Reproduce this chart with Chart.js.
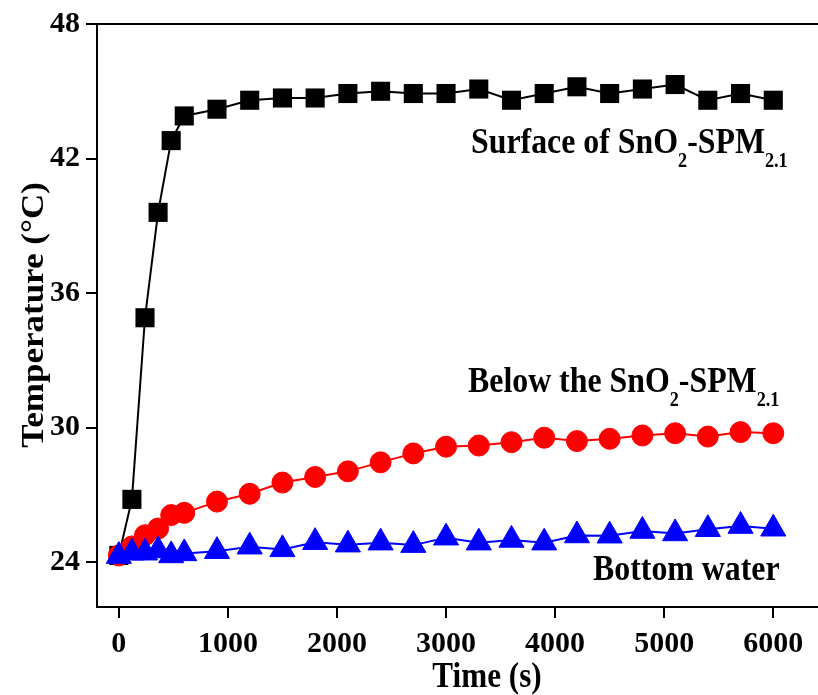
<!DOCTYPE html>
<html>
<head>
<meta charset="utf-8">
<script src="https://cdn.jsdelivr.net/npm/chart.js@4.4.0/dist/chart.umd.min.js"></script>
<style>
  html, body { margin: 0; padding: 0; background: #fff; overflow: hidden; }
</style>
</head>
<body>
<canvas id="myChart" width="818" height="695"></canvas>
<script>

// Time axis (s)

var times = [0, 120, 240, 360, 480, 600, 900, 1200, 1500, 1800, 2100, 2400, 2700,
             3000, 3300, 3600, 3900, 4200, 4500, 4800, 5100, 5400, 5700, 6000];

// The three temperature curves (°C)

var surfaceTemp = [24.3, 26.8, 34.9, 39.6, 42.8, 43.9, 44.2, 44.6, 44.7, 44.7, 44.9, 45.0,
                   44.9, 44.9, 45.1, 44.6, 44.9, 45.2, 44.9, 45.1, 45.3, 44.6, 44.9, 44.6];

var belowTemp = [24.3, 24.7, 25.2, 25.5, 26.1, 26.2, 26.7, 27.05, 27.55, 27.8, 28.05, 28.45,
                 28.85, 29.15, 29.2, 29.35, 29.55, 29.4, 29.5, 29.65, 29.75, 29.6, 29.8, 29.75];

var bottomTemp = [24.27, 24.42, 24.42, 24.52, 24.3, 24.39, 24.49, 24.69, 24.57, 24.89, 24.78, 24.87,
                  24.76, 25.09, 24.87, 24.99, 24.87, 25.19, 25.18, 25.39, 25.28, 25.47, 25.61, 25.49];

// Tick labels

var xTicks = [0, 1000, 2000, 3000, 4000, 5000, 6000];
var yTicks = [24, 30, 36, 42, 48];

var FONT = '"Liberation Serif", "Times New Roman", serif';

function toPoints(arr) {
  return times.map(function (t, i) { return { x: t, y: arr[i] }; });
}

// text squeezed a bit sideways, like the original figure
function drawParts(ctx, parts, x, y) {
  ctx.save();
  ctx.translate(x, y);
  ctx.scale(0.91, 1);
  ctx.fillStyle = '#000';
  ctx.textBaseline = 'alphabetic';
  ctx.textAlign = 'left';
  var cx = 0;
  parts.forEach(function (p) {
    ctx.font = p.sub ? 'bold 20px ' + FONT : 'bold 35px ' + FONT;
    ctx.fillText(p.text, cx, p.sub ? 14 : 0);
    cx += ctx.measureText(p.text).width;
  });
  ctx.restore();
}

var labelsPlugin = {
  id: 'labels',
  afterDraw: function (chart) {
    var ctx = chart.ctx;
    var a = chart.chartArea;

    // top frame line
    ctx.save();
    ctx.strokeStyle = '#000';
    ctx.lineWidth = 2;
    ctx.beginPath();
    ctx.moveTo(a.left - 1, a.top);
    ctx.lineTo(chart.width, a.top);
    ctx.stroke();
    ctx.restore();

    drawParts(ctx, [{ text: 'Surface of SnO' }, { text: '2', sub: true },
                    { text: '-SPM' }, { text: '2.1', sub: true }], 471, 153);
    drawParts(ctx, [{ text: 'Below the SnO' }, { text: '2', sub: true },
                    { text: '-SPM' }, { text: '2.1', sub: true }], 468, 392);
    drawParts(ctx, [{ text: 'Bottom water' }], 593, 580);

    // axis titles
    ctx.save();
    ctx.fillStyle = '#000';
    ctx.font = 'bold 35px ' + FONT;
    ctx.textAlign = 'center';
    ctx.textBaseline = 'alphabetic';
    ctx.translate(487, 687);
    ctx.scale(0.89, 1);
    ctx.fillText('Time (s)', 0, 0);
    ctx.restore();

    ctx.save();
    ctx.fillStyle = '#000';
    ctx.font = 'bold 35px ' + FONT;
    ctx.textAlign = 'center';
    ctx.textBaseline = 'alphabetic';
    ctx.translate(43, 315);
    ctx.scale(0.89, 1);
    ctx.rotate(-Math.PI / 2);
    ctx.fillText('Temperature (°C)', 0, 0);
    ctx.restore();
  }
};

var ctx = document.getElementById('myChart');
var myChart = new Chart(ctx, {
  type: 'line',
  data: {
    datasets: [
      {
        label: 'Surface of SnO2-SPM2.1',
        data: toPoints(surfaceTemp),
        borderColor: '#000000',
        backgroundColor: '#000000',
        borderWidth: 2,
        pointStyle: 'rect',
        pointRadius: 13.5,
        pointBorderWidth: 0,
        fill: false,
        order: 2
      },
      {
        label: 'Below the SnO2-SPM2.1',
        data: toPoints(belowTemp),
        borderColor: '#ff0000',
        backgroundColor: '#ff0000',
        borderWidth: 2,
        pointStyle: 'circle',
        pointRadius: 10.5,
        pointBorderWidth: 1,
        fill: false,
        order: 1
      },
      {
        label: 'Bottom water',
        data: toPoints(bottomTemp),
        borderColor: '#0000ff',
        backgroundColor: '#0000ff',
        borderWidth: 2,
        pointStyle: 'triangle',
        pointRadius: 14.5,
        pointBorderWidth: 1,
        fill: false,
        order: 0
      }
    ]
  },
  options: {
    responsive: false,
    animation: false,
    events: [],
    layout: { autoPadding: false, padding: { top: 24, right: 0, left: 0, bottom: 0 } },
    plugins: {
      legend: { display: false },
      tooltip: { enabled: false }
    },
    scales: {
      x: {
        type: 'linear',
        min: -200,
        max: 6410,
        afterBuildTicks: function (scale) {
          scale.ticks = xTicks.map(function (v) { return { value: v }; });
        },
        afterFit: function (scale) {
          scale.height = 88;
          scale.paddingLeft = 0;
          scale.paddingRight = 0;
        },
        border: { display: true, color: '#000', width: 2 },
        grid: { drawOnChartArea: false, drawTicks: true, tickLength: 11, color: '#000', lineWidth: 2 },
        ticks: {
          color: '#000',
          padding: 8,
          maxRotation: 0,
          callback: function (v) { return String(v); },
          font: { family: FONT, size: 30, weight: 'bold' }
        }
      },
      y: {
        min: 22,
        max: 48,
        afterBuildTicks: function (scale) {
          scale.ticks = yTicks.map(function (v) { return { value: v }; });
        },
        afterFit: function (scale) {
          scale.width = 97;
          scale.paddingTop = 0;
          scale.paddingBottom = 0;
        },
        border: { display: true, color: '#000', width: 2 },
        grid: { drawOnChartArea: false, drawTicks: true, tickLength: 11, color: '#000', lineWidth: 2 },
        ticks: {
          color: '#000',
          padding: 6,
          callback: function (v) { return String(v); },
          font: { family: FONT, size: 30, weight: 'bold' }
        }
      }
    }
  },
  plugins: [labelsPlugin]
});
</script>
</body>
</html>
